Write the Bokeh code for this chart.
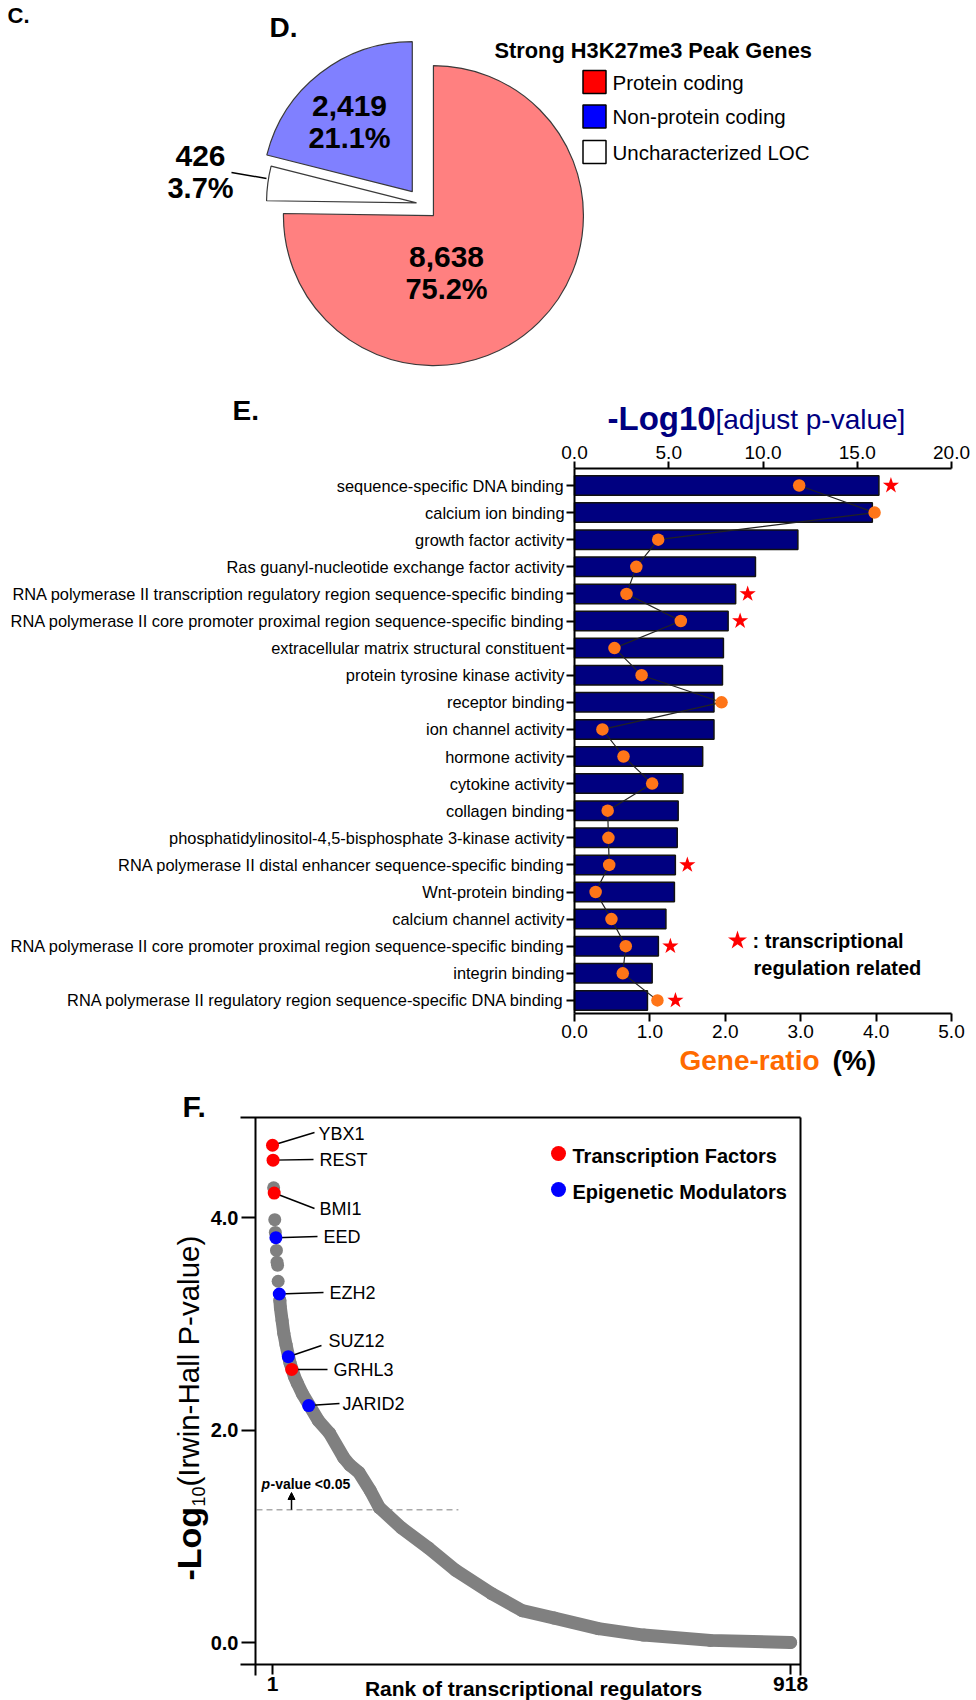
import math
from bokeh.plotting import figure
from bokeh.layouts import column
from bokeh.models import (Range1d, LinearAxis, FixedTicker, PrintfTickFormatter,
                          Label, Arrow, NormalHead)
from bokeh.embed import file_html
from bokeh.resources import INLINE

FONT = "Liberation Sans"

# ---------------- Panel D data ----------------
pie_names = ["Protein coding", "Non-protein coding", "Uncharacterized LOC"]
pie_counts = [8638, 2419, 426]
pie_pcts = ["75.2%", "21.1%", "3.7%"]
pie_fill = ["#FF8080", "#8080FF", "#FFFFFF"]
legend_fill = ["#FF0000", "#0000FF", "#FFFFFF"]
pie_title = "Strong H3K27me3 Peak Genes"

# ---------------- Panel E data ----------------
go_terms = [
    "sequence-specific DNA binding",
    "calcium ion binding",
    "growth factor activity",
    "Ras guanyl-nucleotide exchange factor activity",
    "RNA polymerase II transcription regulatory region sequence-specific binding",
    "RNA polymerase II core promoter proximal region sequence-specific binding",
    "extracellular matrix structural constituent",
    "protein tyrosine kinase activity",
    "receptor binding",
    "ion channel activity",
    "hormone activity",
    "cytokine activity",
    "collagen binding",
    "phosphatidylinositol-4,5-bisphosphate 3-kinase activity",
    "RNA polymerase II distal enhancer sequence-specific binding",
    "Wnt-protein binding",
    "calcium channel activity",
    "RNA polymerase II core promoter proximal region sequence-specific binding",
    "integrin binding",
    "RNA polymerase II regulatory region sequence-specific DNA binding",
]
neglog10_padj = [16.15, 15.8, 11.85, 9.6, 8.55, 8.15, 7.9, 7.85, 7.4, 7.4,
                 6.8, 5.75, 5.5, 5.45, 5.35, 5.3, 4.85, 4.45, 4.12, 3.87]
gene_ratio = [2.98, 3.98, 1.11, 0.82, 0.69, 1.41, 0.53, 0.89, 1.95, 0.37,
              0.65, 1.03, 0.44, 0.45, 0.46, 0.28, 0.49, 0.68, 0.64, 1.10]
tx_related = [1, 0, 0, 0, 1, 1, 0, 0, 0, 0, 0, 0, 0, 0, 1, 0, 0, 1, 0, 1]
top_ticks = [0, 5, 10, 15, 20]
bottom_ticks = [0, 1, 2, 3, 4, 5]

# ---------------- Panel F data ----------------
tf_genes = ["YBX1", "REST", "BMI1", "GRHL3"]
tf_rank = [1, 2, 4, 35]
tf_val = [4.68, 4.54, 4.23, 2.57]
epi_genes = ["EED", "EZH2", "SUZ12", "JARID2"]
epi_rank = [7, 13, 29, 65]
epi_val = [3.81, 3.28, 2.69, 2.23]
gray_rank = [3, 5, 6, 8, 9, 10, 11, 14, 15, 18, 21, 25, 32, 40, 45, 54, 82,
             102, 127, 138, 154, 174, 190, 229, 277, 325, 389, 443, 500, 578,
             658, 776, 918]
gray_val = [4.28, 3.98, 3.86, 3.69, 3.58, 3.55, 3.40, 3.22, 3.15, 3.03, 2.91,
            2.80, 2.63, 2.50, 2.44, 2.34, 2.09, 1.97, 1.74, 1.67, 1.60, 1.43,
            1.27, 1.08, 0.89, 0.68, 0.46, 0.30, 0.23, 0.13, 0.07, 0.02, 0.0]
n_regulators = 918
sig_threshold = 1.25
f_yticks = [0, 2, 4]
f_xticks = [1, n_regulators]


def lab(p, x, y, text, size, bold=False, color="black", align="left",
        baseline="middle", angle=0.0, italic=False):
    style = "bold" if bold else "normal"
    if italic:
        style = "bold italic" if bold else "italic"
    p.add_layout(Label(x=x, y=y, text=text, text_font=FONT,
                       text_font_size=f"{size}px", text_font_style=style,
                       text_color=color, text_align=align,
                       text_baseline=baseline, angle=angle))


def style_axis(ax, size="19px", bold=False, tick_out=7):
    ax.axis_line_width = 2
    ax.axis_line_color = "black"
    ax.major_tick_line_width = 2
    ax.major_tick_line_color = "black"
    ax.major_tick_out = tick_out
    ax.major_tick_in = 0
    ax.minor_tick_out = 0
    ax.minor_tick_in = 0
    ax.major_label_text_font = FONT
    ax.major_label_text_font_size = size
    ax.major_label_text_color = "black"
    ax.major_label_standoff = 3
    if bold:
        ax.major_label_text_font_style = "bold"


def make_fig(h, xr, yr):
    return figure(width=976, height=h, x_range=xr, y_range=yr, title=None,
                  x_axis_type=None, y_axis_type=None, toolbar_location=None,
                  output_backend="svg", min_border=0, outline_line_color=None)


# =============== Panel D (pie) =================
HD = 372
pD = make_fig(HD, Range1d(0, 976), Range1d(0, HD))


def sy(y):
    return HD - y


R = 150
cx0, cy0 = 421, sy(203)
explode = [17, 15, 5]
order = [1, 2, 0]  # counter-clockwise from 12 o'clock
total = sum(pie_counts)
a = math.pi / 2
for i in order:
    span = pie_counts[i] / total * 2 * math.pi
    mid = a + span / 2
    cx = cx0 + explode[i] * math.cos(mid)
    cy = cy0 + explode[i] * math.sin(mid)
    pD.wedge(x=[cx], y=[cy], radius=R, start_angle=a, end_angle=a + span,
             fill_color=pie_fill[i], line_color="#3a3a3a", line_width=1.2)
    a += span

pie_label_pos = [(446, 272), (349, 121), (200, 171)]
for i in range(3):
    x, y = pie_label_pos[i]
    lab(pD, x, sy(y - 16), f"{pie_counts[i]:,}", 30, bold=True, align="center")
    lab(pD, x, sy(y + 16), pie_pcts[i], 29, bold=True, align="center")
pD.line([231, 266], [sy(172), sy(178)], line_color="black", line_width=1.5)

lab(pD, 494, sy(50), pie_title, 21.8, bold=True)
leg_y = [81.5, 116, 151.5]
pD.rect(x=[594] * 3, y=[sy(v) for v in leg_y], width=23, height=23,
        fill_color=legend_fill, line_color="black", line_width=1.5)
for i in range(3):
    lab(pD, 612, sy(leg_y[i]), pie_names[i], 20.5)
lab(pD, 269, sy(27), "D.", 28, bold=True)
lab(pD, 7, sy(15), "C.", 22, bold=True)

# =============== Panel E (bars) =================
E_TOP, E_BOT = 372, 1085
PXU = 377 / 20.0
ROW = 27.1


def ex(px):
    return (px - 574) / PXU


def ey(py):
    return (py - 485) / ROW


pE = make_fig(E_BOT - E_TOP, Range1d(ex(0), ex(976)), Range1d(ey(E_BOT), ey(E_TOP)))
pE.extra_x_ranges = {"ratio": Range1d(ex(0) / 4.0, ex(976) / 4.0)}

ax_top = LinearAxis(ticker=FixedTicker(ticks=top_ticks),
                    formatter=PrintfTickFormatter(format="%.1f"),
                    fixed_location=ey(468), bounds=(0, 20))
style_axis(ax_top)
pE.add_layout(ax_top, "above")
ax_bot = LinearAxis(x_range_name="ratio", ticker=FixedTicker(ticks=bottom_ticks),
                    formatter=PrintfTickFormatter(format="%.1f"),
                    fixed_location=ey(1013), bounds=(0, 5))
style_axis(ax_bot, tick_out=8)
pE.add_layout(ax_bot, "below")
idx = list(range(len(go_terms)))
ax_left = LinearAxis(ticker=FixedTicker(ticks=idx),
                     major_label_overrides={i: t for i, t in enumerate(go_terms)},
                     fixed_location=0, bounds=(ey(468), ey(1013)))
style_axis(ax_left, size="16.4px", tick_out=8)
ax_left.major_label_standoff = 2
pE.add_layout(ax_left, "left")

pE.hbar(y=idx, left=0, right=neglog10_padj, height=0.72, fill_color="#000080",
        line_color="#111111", line_width=1.5)
pE.line(x=gene_ratio, y=idx, x_range_name="ratio", line_color="#222222",
        line_width=1.2)
pE.scatter(x=gene_ratio, y=idx, x_range_name="ratio", size=12.5,
           fill_color="#FF7518", line_color=None)
star_x, star_y = [], []
for i in idx:
    if tx_related[i]:
        bar_px = neglog10_padj[i] * PXU
        dot_px = gene_ratio[i] * (377 / 5.0) + 6
        star_x.append((max(bar_px, dot_px) + 12) / PXU)
        star_y.append(i)
pE.scatter(x=star_x, y=star_y, marker="star", size=17, fill_color="#FF0000",
           line_color=None)

lab(pE, ex(607), ey(418), "-Log10", 33, bold=True, color="#000080")
lab(pE, ex(715), ey(419), "[adjust p-value]", 28, color="#000080")
lab(pE, ex(679), ey(1060), "Gene-ratio", 28, bold=True, color="#FF6A00")
lab(pE, ex(832), ey(1060), "(%)", 28, bold=True)
lab(pE, ex(232), ey(410), "E.", 28, bold=True)
pE.scatter(x=[ex(737)], y=[ey(940)], marker="star", size=20,
           fill_color="#FF0000", line_color=None)
lab(pE, ex(752), ey(940), ": transcriptional", 20, bold=True)
lab(pE, ex(753), ey(967), "regulation related", 20, bold=True)

# =============== Panel F (rank plot) =================
F_TOP, F_BOT = 1085, 1700


def fx(px):
    return (px - 272) / 0.565 + 1


def fy(py):
    return (1642 - py) / 106.25


pF = make_fig(F_BOT - F_TOP, Range1d(fx(0), fx(976)), Range1d(fy(F_BOT), fy(F_TOP)))
ax_fy = LinearAxis(ticker=FixedTicker(ticks=f_yticks),
                   formatter=PrintfTickFormatter(format="%.1f"),
                   fixed_location=fx(255), bounds=(fy(1675), fy(1117)))
style_axis(ax_fy, size="20px", bold=True, tick_out=14)
pF.add_layout(ax_fy, "left")
ax_fx = LinearAxis(ticker=FixedTicker(ticks=f_xticks),
                   fixed_location=fy(1664), bounds=(fx(240), fx(800)))
style_axis(ax_fx, size="21px", bold=True, tick_out=10)
ax_fx.major_label_standoff = 2
pF.add_layout(ax_fx, "below")
# frame top and right edges
pF.line(x=[fx(240), fx(800)], y=[fy(1117), fy(1117)], line_color="black", line_width=2)
pF.line(x=[fx(800), fx(800)], y=[fy(1117), fy(1675)], line_color="black", line_width=2)

# threshold
pF.line(x=[fx(256), 330], y=[sig_threshold, sig_threshold], line_color="#AAAAAA",
        line_width=1.5, line_dash="6 4")
pF.add_layout(Arrow(end=NormalHead(size=7, fill_color="black", line_color="black"),
                    x_start=fx(291), y_start=sig_threshold, x_end=fx(291),
                    y_end=fy(1492), line_width=1.5, line_color="black"))
lab(pF, fx(261), fy(1483), "p", 14, bold=True, italic=True)
lab(pF, fx(270), fy(1483), "-value  <0.05", 14, bold=True)

# curve
line_r = [r for r in gray_rank if r >= 13]
line_v = [v for r, v in zip(gray_rank, gray_val) if r >= 13]
pF.line(x=line_r, y=line_v, line_color="#808080", line_width=13,
        line_cap="round", line_join="round")
pF.scatter(x=gray_rank, y=gray_val, size=13, fill_color="#808080", line_color=None)

gene_label_px = {
    "YBX1": (318, 1133, 314, 1132),
    "REST": (319, 1159, 313, 1159),
    "BMI1": (319, 1208, 314, 1208),
    "EED": (323, 1236, 317, 1236),
    "EZH2": (329, 1292, 323, 1292),
    "SUZ12": (328, 1340, 321, 1345),
    "GRHL3": (333, 1369, 327, 1369),
    "JARID2": (342, 1403, 339, 1403),
}
for genes, ranks, vals in ((tf_genes, tf_rank, tf_val), (epi_genes, epi_rank, epi_val)):
    for g, r, v in zip(genes, ranks, vals):
        tx, ty, lx, ly = gene_label_px[g]
        pF.line(x=[r, fx(lx)], y=[v, fy(ly)], line_color="black", line_width=1.5)
        lab(pF, fx(tx), fy(ty), g, 18)
pF.scatter(x=tf_rank, y=tf_val, size=13, fill_color="#FF0000", line_color=None)
pF.scatter(x=epi_rank, y=epi_val, size=13, fill_color="#0000FF", line_color=None)

# legend
pF.scatter(x=[fx(558)], y=[fy(1153)], size=15, fill_color="#FF0000", line_color=None)
pF.scatter(x=[fx(558)], y=[fy(1189)], size=15, fill_color="#0000FF", line_color=None)
lab(pF, fx(572), fy(1155), "Transcription Factors", 20, bold=True)
lab(pF, fx(572), fy(1191), "Epigenetic Modulators", 20, bold=True)

# axis titles
lab(pF, fx(533), fy(1688), "Rank of transcriptional regulators", 21, bold=True,
    align="center")
lab(pF, fx(188), fy(1580), "-Log", 34, bold=True, angle=math.pi / 2)
lab(pF, fx(198), fy(1506), "10", 18, angle=math.pi / 2)
lab(pF, fx(188), fy(1486), "(Irwin-Hall P-value)", 29.5, angle=math.pi / 2)
lab(pF, fx(182), fy(1106), "F.", 30, bold=True)

layout = column(pD, pE, pF)
open("out.html", "w").write(file_html(layout, INLINE))
